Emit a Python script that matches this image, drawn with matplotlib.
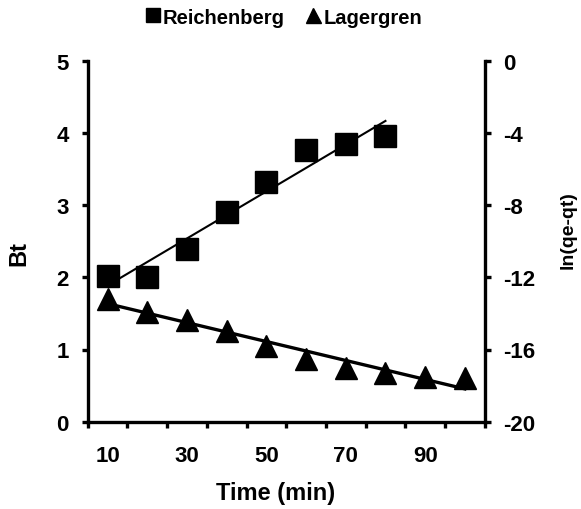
import numpy as np
import matplotlib
matplotlib.use("Agg")
import matplotlib.pyplot as plt
from matplotlib.lines import Line2D

plt.rcParams['font.family'] = ['Liberation Sans', 'DejaVu Sans']
plt.rcParams['font.weight'] = 'bold'
plt.rcParams['axes.unicode_minus'] = False

# Data
time_reich = [10, 20, 30, 40, 50, 60, 70, 80]
bt_values = [2.02, 2.00, 2.39, 2.91, 3.32, 3.76, 3.85, 3.96]
time_lager = [10, 20, 30, 40, 50, 60, 70, 80, 90, 100]
ln_values = [-13.2, -13.9, -14.36, -15.0, -15.8, -16.5, -17.0, -17.3, -17.55, -17.6]
x_tick_labels = [10, 30, 50, 70, 90]
left_ticks = [0, 1, 2, 3, 4, 5]
right_ticks = [-20, -16, -12, -8, -4, 0]

W, H = 581, 510
fig = plt.figure(figsize=(W / 100, H / 100), dpi=100)
ax = fig.add_axes([87.7 / W, 1 - 422.7 / H, 397 / W, 361 / H])
ax2 = ax.twinx()

# Reichenberg
ax.plot(time_reich, bt_values, 's', color='black', markersize=15.6, zorder=3)
p1 = np.polyfit(time_reich, bt_values, 1)
xr = np.array([time_reich[0], time_reich[-1]])
ax.plot(xr, np.polyval(p1, xr), '-', color='black', lw=1.5, zorder=2)

# Lagergren
ax2.plot(time_lager, ln_values, '^', color='black', markersize=15.6, zorder=3)
p2 = np.polyfit(time_lager, ln_values, 1)
xl = np.array([time_lager[0], time_lager[-1]])
ax2.plot(xl, np.polyval(p2, xl), '-', color='black', lw=2.4, zorder=2)

ax.set_xlim(5, 105)
ax.set_ylim(0, 5)
ax2.set_ylim(-20, 0)

ax.set_xticks(x_tick_labels)
ax.set_xticklabels([str(v) for v in x_tick_labels])
ax.set_xticks(np.arange(5, 106, 10), minor=True)
ax.tick_params(axis='x', which='major', length=0, pad=17, labelsize=16)
ax.tick_params(axis='x', which='minor', length=4, width=2.4, direction='out')

ax.set_yticks(left_ticks)
ax.tick_params(axis='y', length=4.5, width=2.4, direction='out', labelsize=16, pad=9)
ax2.set_yticks(right_ticks)
ax2.tick_params(axis='y', length=4.5, width=2.4, direction='out', labelsize=16, pad=9)

for a in (ax, ax2):
    a.spines['top'].set_visible(False)
    for s in ('left', 'right', 'bottom'):
        a.spines[s].set_linewidth(2.4)
ax.spines['right'].set_visible(False)
ax2.spines['left'].set_visible(False)
ax2.spines['bottom'].set_visible(False)

fig.text(19 / W, 1 - 254 / H, 'Bt', rotation=90, ha='center', va='center',
         fontsize=17, fontweight='bold')
fig.text(568 / W, 1 - 230 / H, 'ln(qe-qt)', rotation=90, ha='center', va='center',
         fontsize=14, fontweight='bold')
fig.text(276 / W, 1 - 494 / H, 'Time (min)', ha='center', va='center',
         fontsize=17, fontweight='bold')

handles = [Line2D([], [], marker='s', color='black', linestyle='none', markersize=9.4),
           Line2D([], [], marker='^', color='black', linestyle='none', markersize=10.8)]
fig.legend(handles, ['Reichenberg', 'Lagergren'], loc='center',
           bbox_to_anchor=(283.5 / W, 1 - 18 / H), ncol=2, frameon=False,
           prop={'size': 14.5, 'weight': 'bold'}, handletextpad=0.1,
           columnspacing=1.0, handlelength=0.8, borderpad=0)

fig.savefig('out.png', dpi=100)
